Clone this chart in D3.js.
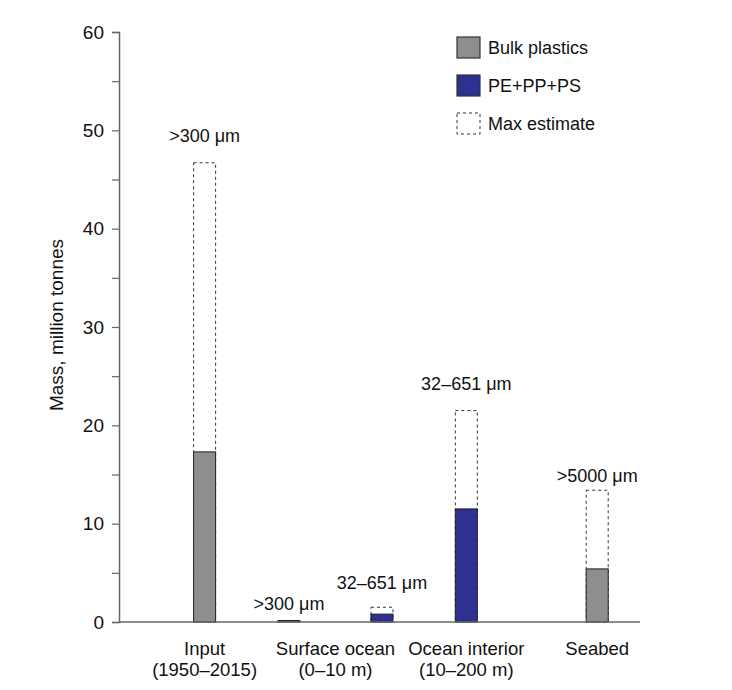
<!DOCTYPE html>
<html>
<head>
<meta charset="utf-8">
<script src="https://cdn.jsdelivr.net/npm/d3@7"></script>
<style>
  html, body { margin: 0; padding: 0; background: #fff; }
  svg { display: block; font-family: "Liberation Sans", Arial, Helvetica, sans-serif; }
</style>
</head>
<body>
<svg id="chart" width="732" height="690"></svg>
<script>
// ---- data ----
const barIds      = ["input", "surfaceBulk", "surfacePE", "interior", "seabed"];
const barSeries   = ["bulk", "bulk", "pe", "pe", "bulk"];
const barValues   = [17.3, 0.15, 0.8, 11.5, 5.4];
const maxValues   = [46.7, null, 1.5, 21.5, 13.4];
const sizeLabels  = [">300 \u03bcm", ">300 \u03bcm", "32\u2013651 \u03bcm", "32\u2013651 \u03bcm", ">5000 \u03bcm"];
const categoryIds = ["input", "surface", "interior", "seabed"];
const categoryLines = [["Input", "(1950\u20132015)"], ["Surface ocean", "(0\u201310 m)"], ["Ocean interior", "(10\u2013200 m)"], ["Seabed"]];
const barCategory = ["input", "surface", "surface", "interior", "seabed"];
const yTicks      = [0, 10, 20, 30, 40, 50, 60];
const yMinorTicks = [5, 15, 25, 35, 45, 55];
const legendKeys   = ["bulk", "pe", "max"];
const legendLabels = ["Bulk plastics", "PE+PP+PS", "Max estimate"];
const yTitle = "Mass, million tonnes";

// ---- layout / style ----
const colors = { bulk: "#8e8e8e", pe: "#2e3192" };
const labelGap = [21, 11, 18, 21, 8];
const axisColor = "#666";
const textColor = "#111";

const svg = d3.select("#chart");
const y = d3.scaleLinear().domain([0, 60]).range([622, 32]);
const xCat = d3.scalePoint().domain(categoryIds).range([204.6, 597.2]);
const subOffset = {};
categoryIds.forEach(c => {
  const members = barIds.filter((id, i) => barCategory[i] === c);
  subOffset[c] = d3.scalePoint().domain(members).range([-46.5, 46.5]);
});
const xBar = id => {
  const c = barCategory[barIds.indexOf(id)];
  return xCat(c) + subOffset[c](id);
};
const barW = 22;
const x0 = 119, xEnd = 640;

// y axis
const yAxis = d3.axisLeft(y).tickValues(yTicks).tickSize(7).tickPadding(8).tickFormat(d3.format("d"));
const gy = svg.append("g").attr("transform", `translate(${x0},0)`).call(yAxis);
gy.select(".domain").attr("stroke", axisColor).attr("stroke-width", 1.5);
gy.selectAll(".tick line").attr("stroke", axisColor).attr("stroke-width", 1.2);
gy.selectAll(".tick text").attr("fill", textColor).style("font-size", "19px")
  .style("font-family", "'Liberation Sans', Arial, sans-serif");
const yMinor = d3.axisLeft(y).tickValues(yMinorTicks).tickSize(7).tickFormat("");
const gym = svg.append("g").attr("transform", `translate(${x0},0)`).call(yMinor);
gym.select(".domain").remove();
gym.selectAll(".tick line").attr("stroke", axisColor).attr("stroke-width", 1.2);

// y title
svg.append("text")
  .attr("transform", `translate(63,${(y(0) + y(60)) / 2 - 2}) rotate(-90)`)
  .attr("text-anchor", "middle")
  .style("font-size", "19px")
  .attr("fill", textColor)
  .text(yTitle);

// bars
const bars = barIds.map((id, i) => ({ id, series: barSeries[i], v: barValues[i], max: maxValues[i], label: sizeLabels[i], gap: labelGap[i] }));

// max estimate dashed outlines
svg.append("g").selectAll("rect").data(bars.filter(d => d.max != null)).join("rect")
  .attr("x", d => xBar(d.id) - barW / 2)
  .attr("width", barW)
  .attr("y", d => y(d.max))
  .attr("height", d => y(0) - y(d.max))
  .attr("fill", "none")
  .attr("stroke", "#333")
  .attr("stroke-width", 1)
  .attr("stroke-dasharray", "3,3");

// filled bars
svg.append("g").selectAll("rect").data(bars).join("rect")
  .attr("x", d => xBar(d.id) - barW / 2)
  .attr("width", barW)
  .attr("y", d => y(d.v))
  .attr("height", d => y(0) - y(d.v))
  .attr("fill", d => colors[d.series])
  .attr("stroke", "#222")
  .attr("stroke-width", 1);

// size labels
svg.append("g").selectAll("text").data(bars).join("text")
  .attr("x", d => xBar(d.id))
  .attr("y", d => y(d.max != null ? d.max : d.v) - d.gap)
  .attr("text-anchor", "middle")
  .style("font-size", "18px")
  .attr("fill", textColor)
  .text(d => d.label);

// x axis line
svg.append("line")
  .attr("x1", x0).attr("x2", xEnd)
  .attr("y1", y(0)).attr("y2", y(0))
  .attr("stroke", axisColor).attr("stroke-width", 1.5);

// category labels
const cats = categoryIds.map((c, i) => ({ c, lines: categoryLines[i] }));
const cat = svg.append("g").selectAll("text").data(cats).join("text")
  .attr("x", d => xCat(d.c))
  .attr("y", 655)
  .attr("text-anchor", "middle")
  .style("font-size", "18.5px")
  .attr("fill", textColor);
cat.selectAll("tspan").data(d => d.lines.map(l => ({ l, x: xCat(d.c) }))).join("tspan")
  .attr("x", d => d.x)
  .attr("dy", (d, i) => i === 0 ? 0 : 21)
  .text(d => d.l);

// legend
const lg = svg.append("g").attr("transform", "translate(457,37)");
const li = lg.selectAll("g").data(legendKeys.map((k, i) => ({ key: k, label: legendLabels[i] }))).join("g")
  .attr("transform", (d, i) => `translate(0,${i * 38})`);
li.append("rect")
  .attr("width", 23).attr("height", 21)
  .attr("fill", d => d.key === "max" ? "none" : colors[d.key])
  .attr("stroke", "#333")
  .attr("stroke-width", d => d.key === "max" ? 1 : 1.2)
  .attr("stroke-dasharray", d => d.key === "max" ? "3,3" : null);
li.append("text")
  .attr("x", 31).attr("y", 17)
  .style("font-size", "18px")
  .attr("fill", textColor)
  .text(d => d.label);
</script>
</body>
</html>
